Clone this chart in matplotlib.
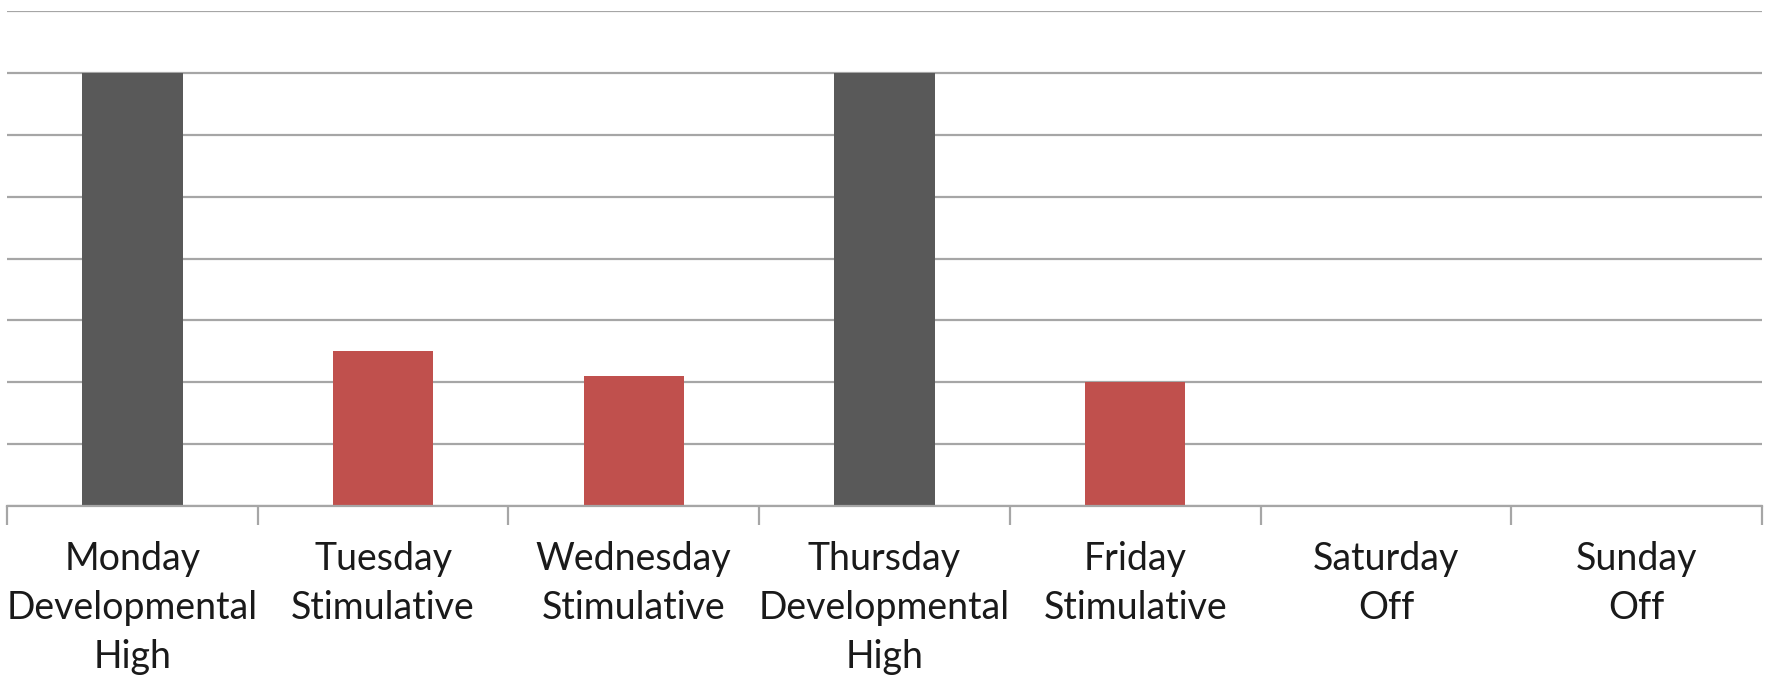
import matplotlib as mpl
import matplotlib.pyplot as plt

mpl.use('Agg')

days = ["Monday", "Tuesday", "Wednesday", "Thursday", "Friday", "Saturday", "Sunday"]
sessions = ["Developmental\nHigh", "Stimulative", "Stimulative", "Developmental\nHigh",
            "Stimulative", "Off", "Off"]
load = [7, 2.5, 2.1, 7, 2.0, 0, 0]

colores = {"Developmental\nHigh": "#595959", "Stimulative": "#C0504D", "Off": "#C0504D"}

fig = plt.figure(figsize=(17.69, 6.75), dpi=100)
ax = fig.add_axes([7 / 1769, 1 - 506 / 675, (1762 - 7) / 1769, (506 - 11) / 675])

x = list(range(len(days)))
ax.bar(x, load, width=0.4, color=[colores[s] for s in sessions], zorder=3)

ax.set_xlim(-0.5, len(days) - 0.5)
ax.set_ylim(0, 8)
ax.set_yticks(range(0, 9))
ax.yaxis.grid(True, color="#a6a6a6", linewidth=1.6, zorder=0)
ax.tick_params(axis="y", left=False, labelleft=False)

for s in ["top", "right", "left"]:
    ax.spines[s].set_visible(False)
ax.spines["bottom"].set_color("#a6a6a6")
ax.spines["bottom"].set_linewidth(1.6)
ax.spines["bottom"].set_zorder(4)

# day name on top, session type underneath
etiquetas = [d + "\n" + s for d, s in zip(days, sessions)]
ax.set_xticks(x)
ax.set_xticklabels(etiquetas, fontsize=27, family="Lato", color="#1a1a1a", linespacing=1.45,
                   va="top")
ax.tick_params(axis="x", which="major", length=0, pad=25)
ax.set_xticks([i - 0.5 for i in range(len(days) + 1)], minor=True)
ax.tick_params(axis="x", which="minor", length=14, width=1.6, color="#a6a6a6")

fig.savefig("out.png", dpi=100)
